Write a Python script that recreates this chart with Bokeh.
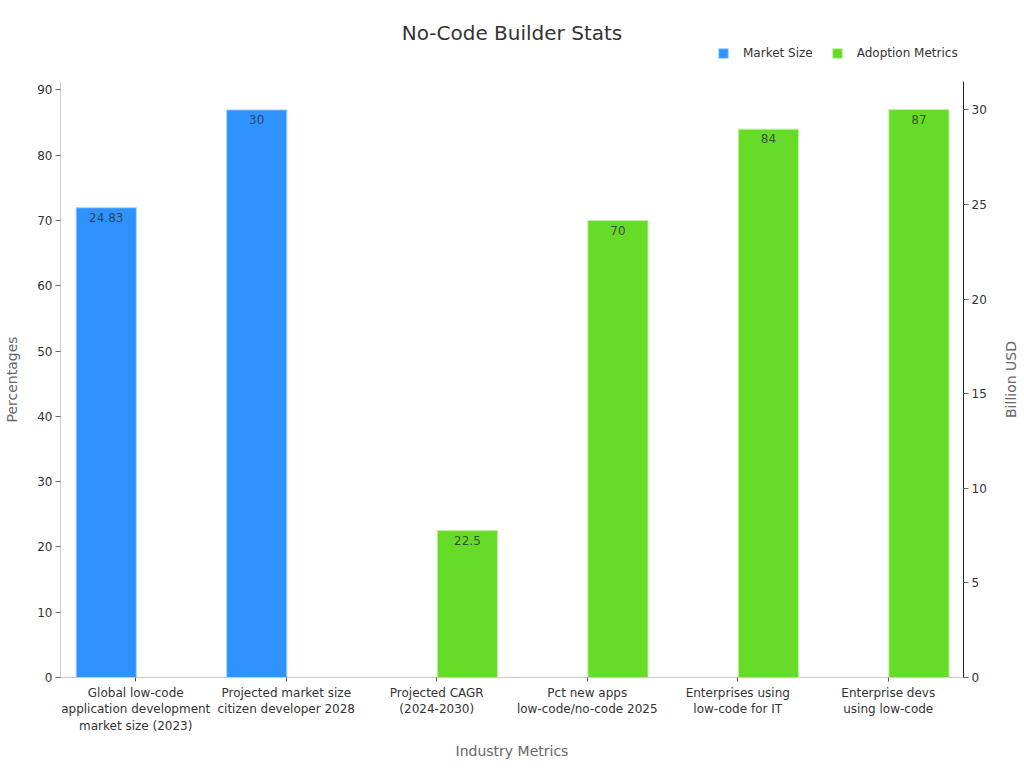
from math import pi
from bokeh.plotting import figure
from bokeh.layouts import column, row
from bokeh.models import (ColumnDataSource, Range1d, FactorRange, LinearAxis, Legend, LegendItem,
                          FixedTicker, Title)
from bokeh.core.properties import value
from bokeh.transform import dodge
from bokeh.embed import file_html
from bokeh.resources import INLINE

TITLE = "No-Code Builder Stats"
categories = ["Global low-code\napplication development\nmarket size (2023)",
              "Projected market size\ncitizen developer 2028",
              "Projected CAGR\n(2024-2030)",
              "Pct new apps\nlow-code/no-code 2025",
              "Enterprises using\nlow-code for IT",
              "Enterprise devs\nusing low-code"]
market_cats = categories[:2]
market_values = [24.83, 30]
market_labels = ["24.83", "30"]
adoption_cats = categories[2:]
adoption_values = [22.5, 70, 84, 87]
adoption_labels = ["22.5", "70", "84", "87"]
left_ticks = [0, 10, 20, 30, 40, 50, 60, 70, 80, 90]
right_ticks = [0, 5, 10, 15, 20, 25, 30]

FONT = "DejaVu Sans"
INK = "#333333"
BLUE = "#2E93FF"
GREEN = "#66DB28"
BLUE_EDGE = "#a9d3ff"
GREEN_EDGE = "#c0efa6"

# ---- main plot -------------------------------------------------------------
p = figure(width=1000, height=687, output_backend="svg", toolbar_location=None,
           x_range=FactorRange(factors=categories, range_padding=0, factor_padding=0),
           y_range=Range1d(0, 91.3),
           min_border_left=60, min_border_right=37, min_border_top=0, min_border_bottom=91,
           outline_line_color=None)
p.extra_y_ranges = {"usd": Range1d(0, 31.5)}
p.grid.visible = False

s1 = ColumnDataSource(dict(c=market_cats, v=market_values, t=market_labels))
s2 = ColumnDataSource(dict(c=adoption_cats, v=adoption_values, t=adoption_labels))

x1 = dodge("c", -0.196, range=p.x_range)
x2 = dodge("c", 0.204, range=p.x_range)

p.vbar(x=x1, top="v", width=0.4, source=s1, y_range_name="usd",
       fill_color=BLUE, line_color=BLUE_EDGE, line_width=1)
p.vbar(x=x2, top="v", width=0.4, source=s2,
       fill_color=GREEN, line_color=GREEN_EDGE, line_width=1)

p.text(x=x1, y="v", text="t", source=s1, y_range_name="usd",
       y_offset=5, text_align="center", text_baseline="top", text_font=value(FONT),
       text_font_size="12px", text_color="#333333", text_alpha=0.85)
p.text(x=x2, y="v", text="t", source=s2,
       y_offset=5, text_align="center", text_baseline="top", text_font=value(FONT),
       text_font_size="12px", text_color="#333333", text_alpha=0.85)

ax = p.xaxis[0]
ax.axis_label = "Industry Metrics"
ax.axis_label_text_font = FONT
ax.axis_label_text_font_size = "14px"
ax.axis_label_text_font_style = "normal"
ax.axis_label_text_color = "#666666"
ax.axis_label_standoff = 7
ax.major_label_text_font = FONT
ax.major_label_text_font_size = "12px"
ax.major_label_text_color = INK
ax.major_label_standoff = 4
ax.axis_line_color = "#cccccc"
ax.major_tick_line_color = "#555555"
ax.major_tick_in = 0
ax.major_tick_out = 4
ax.minor_tick_line_color = None
ax.separator_line_color = None

ly = p.yaxis[0]
ly.ticker = FixedTicker(ticks=left_ticks)
ly.axis_label = "Percentages"
ly.axis_label_text_font = FONT
ly.axis_label_text_font_size = "14px"
ly.axis_label_text_font_style = "normal"
ly.axis_label_text_color = "#666666"
ly.axis_label_standoff = 14
ly.major_label_text_font = FONT
ly.major_label_text_font_size = "12px"
ly.major_label_text_color = INK
ly.major_label_standoff = 3
ly.axis_line_color = "#cccccc"
ly.major_tick_line_color = "#666666"
ly.major_tick_in = 0
ly.major_tick_out = 5
ly.minor_tick_line_color = None

ry = LinearAxis(y_range_name="usd", ticker=FixedTicker(ticks=right_ticks),
                major_label_text_font=FONT, major_label_text_font_size="12px",
                major_label_text_color=INK, major_label_standoff=3,
                axis_line_color="#222222", major_tick_line_color="#666666",
                major_tick_in=0, major_tick_out=5, minor_tick_line_color=None)
p.add_layout(ry, "right")

# ---- header strip: title and legend ----------------------------------------
h = figure(width=1000, height=81, output_backend="svg", toolbar_location=None,
           x_range=Range1d(0, 1), y_range=Range1d(0, 1),
           x_axis_location=None, y_axis_location=None,
           min_border_left=60, min_border_right=37, min_border_top=44, min_border_bottom=0,
           outline_line_color=None)
h.grid.visible = False

swatch_source = ColumnDataSource(dict(x=[float("nan")], top=[float("nan")]))
k1 = h.vbar(x="x", top="top", width=0.1, source=swatch_source,
            fill_color=BLUE, line_color=BLUE_EDGE, line_width=1)
k2 = h.vbar(x="x", top="top", width=0.1, source=swatch_source,
            fill_color=GREEN, line_color=GREEN_EDGE, line_width=1)

legend = Legend(items=[LegendItem(label="Market Size", renderers=[k1]),
                       LegendItem(label="Adoption Metrics", renderers=[k2])],
                orientation="horizontal", location=(657, 21),
                border_line_color=None, background_fill_color=None, background_fill_alpha=0,
                glyph_width=12, glyph_height=12, label_standoff=14, spacing=18, padding=0, margin=0,
                label_text_font=FONT, label_text_font_size="12px", label_text_color=INK)
h.add_layout(legend, "center")

h.title = Title(text=TITLE, align="center", text_font=FONT, text_font_size="20px",
                text_font_style="normal", text_color="#333333", offset=0, standoff=0)

# ---- side strip: the right-hand axis title, reading bottom to top ----------
side = figure(width=24, height=768, output_backend="svg", toolbar_location=None,
              x_range=Range1d(0, 1), y_range=Range1d(0, 1),
              x_axis_location=None, y_axis_location=None,
              min_border_left=0, min_border_right=0, min_border_top=81, min_border_bottom=91,
              outline_line_color=None)
side.grid.visible = False
side.title = None
side.add_layout(Title(text="Billion USD", align="center", text_font=FONT, text_font_size="14px",
                      text_font_style="normal", text_color="#666666", offset=0, standoff=0), "left")

page = row(column(h, p, spacing=0), side, spacing=0)
open("out.html", "w").write(file_html(page, INLINE))
